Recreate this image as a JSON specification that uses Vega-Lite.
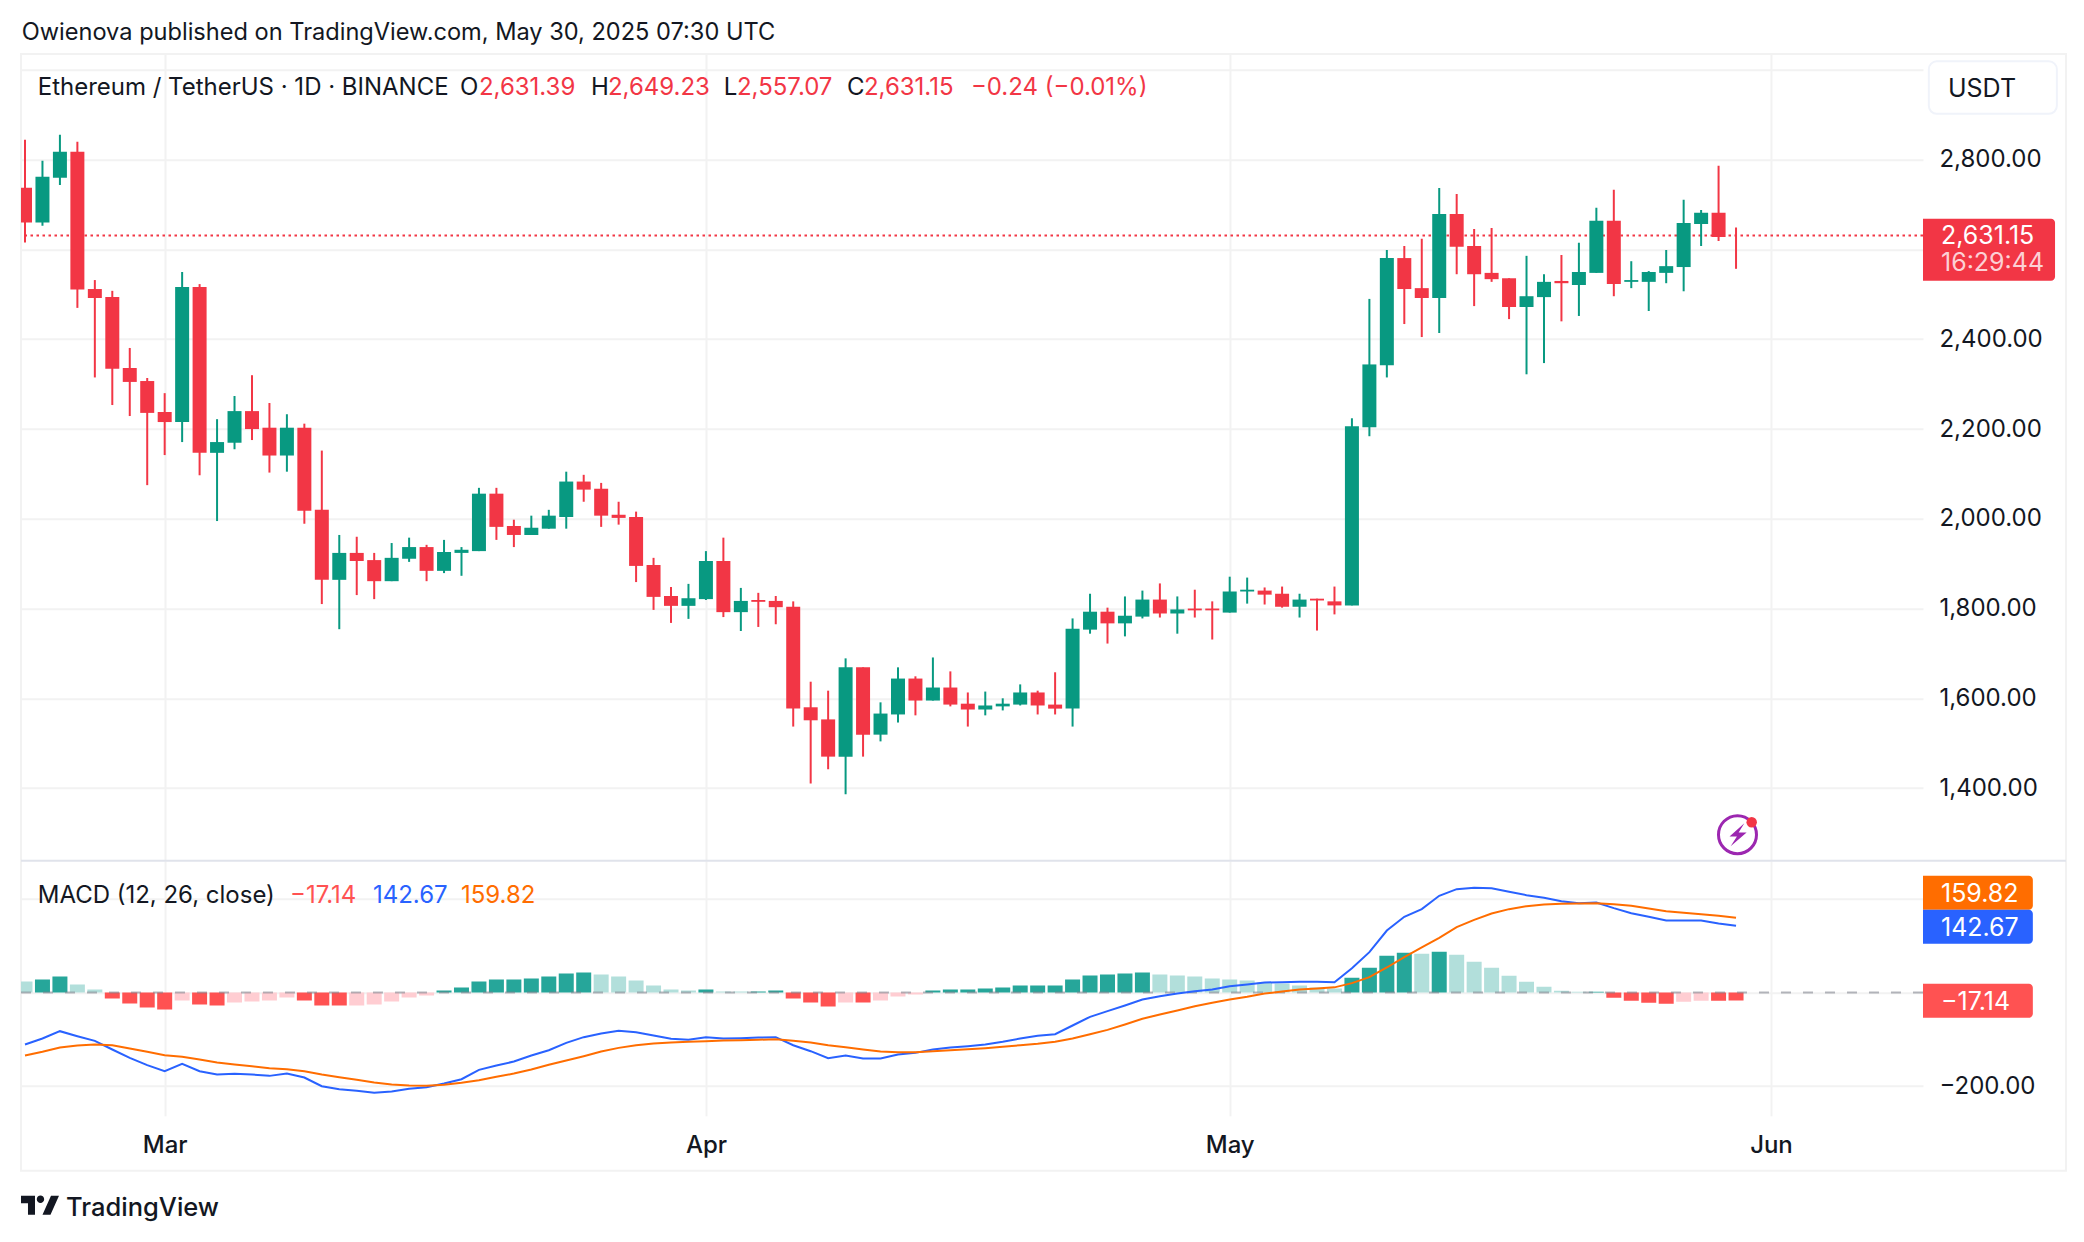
{
  "$schema": "https://vega.github.io/schema/vega-lite/v6.json",
  "background": "white",
  "padding": {"left": 20, "top": 20.8, "right": 0, "bottom": 0},
  "spacing": 0,
  "bounds": "flush",
  "resolve": {"scale": {"color": "independent"}},
  "datasets": {
    "days": [
      {"date":"2025-02-21T00:00","open":2737.5,"high":2844.6,"low":2615.6,"close":2660,"macd":-111.2,"signal":-134.8,"hist":23.5,"phase":"above falling"},
      {"date":"2025-02-22T00:00","open":2660,"high":2797.8,"low":2652.8,"close":2762,"macd":-98.4,"signal":-126.9,"hist":27.8,"phase":"above rising"},
      {"date":"2025-02-23T00:00","open":2760,"high":2855.8,"low":2744,"close":2817.8,"macd":-82.7,"signal":-117.6,"hist":34.2,"phase":"above rising"},
      {"date":"2025-02-24T00:00","open":2818,"high":2840,"low":2470,"close":2511,"macd":-93.4,"signal":-113.4,"hist":17.1,"phase":"above falling"},
      {"date":"2025-02-25T00:00","open":2512,"high":2532,"low":2315,"close":2492,"macd":-103.4,"signal":-111.2,"hist":6.4,"phase":"above falling"},
      {"date":"2025-02-26T00:00","open":2494.4,"high":2508,"low":2253.5,"close":2334.6,"macd":-121.9,"signal":-112.7,"hist":-12.8,"phase":"below falling"},
      {"date":"2025-02-27T00:00","open":2336,"high":2380.7,"low":2229,"close":2305,"macd":-139.8,"signal":-119.8,"hist":-23.5,"phase":"below falling"},
      {"date":"2025-02-28T00:00","open":2307,"high":2313.8,"low":2075,"close":2236,"macd":-155.4,"signal":-126.9,"hist":-32.1,"phase":"below falling"},
      {"date":"2025-03-01T00:00","open":2238,"high":2280,"low":2142,"close":2215.6,"macd":-168.3,"signal":-134,"hist":-36.4,"phase":"below falling"},
      {"date":"2025-03-02T00:00","open":2215.6,"high":2550,"low":2171,"close":2516.7,"macd":-152.6,"signal":-137.6,"hist":-17.1,"phase":"below rising"},
      {"date":"2025-03-03T00:00","open":2516.7,"high":2523,"low":2097,"close":2147,"macd":-168.3,"signal":-143.3,"hist":-25.7,"phase":"below falling"},
      {"date":"2025-03-04T00:00","open":2147,"high":2222,"low":1995,"close":2171,"macd":-175.4,"signal":-149.7,"hist":-27.8,"phase":"below falling"},
      {"date":"2025-03-05T00:00","open":2169.5,"high":2273.6,"low":2155,"close":2240,"macd":-174,"signal":-154,"hist":-21.4,"phase":"below rising"},
      {"date":"2025-03-06T00:00","open":2240,"high":2320,"low":2175.5,"close":2200,"macd":-175.4,"signal":-157.6,"hist":-19.3,"phase":"below rising"},
      {"date":"2025-03-07T00:00","open":2203,"high":2258,"low":2103,"close":2141,"macd":-178.3,"signal":-161.9,"hist":-17.1,"phase":"below rising"},
      {"date":"2025-03-08T00:00","open":2141,"high":2233,"low":2105,"close":2203,"macd":-173.3,"signal":-164,"hist":-10.7,"phase":"below rising"},
      {"date":"2025-03-09T00:00","open":2203,"high":2212,"low":1989,"close":2018,"macd":-181.8,"signal":-168.3,"hist":-17.1,"phase":"below falling"},
      {"date":"2025-03-10T00:00","open":2020,"high":2152,"low":1810,"close":1864,"macd":-200.4,"signal":-175.4,"hist":-27.8,"phase":"below falling"},
      {"date":"2025-03-11T00:00","open":1864,"high":1964,"low":1754,"close":1924,"macd":-206.8,"signal":-181.1,"hist":-27.8,"phase":"below falling"},
      {"date":"2025-03-12T00:00","open":1924,"high":1960,"low":1830,"close":1906,"macd":-210.3,"signal":-186.8,"hist":-27.8,"phase":"below rising"},
      {"date":"2025-03-13T00:00","open":1908,"high":1924,"low":1821,"close":1861,"macd":-214.6,"signal":-192.5,"hist":-25.7,"phase":"below rising"},
      {"date":"2025-03-14T00:00","open":1861,"high":1946,"low":1861,"close":1913,"macd":-211.8,"signal":-196.8,"hist":-19.3,"phase":"below rising"},
      {"date":"2025-03-15T00:00","open":1911,"high":1958,"low":1904,"close":1937,"macd":-206.1,"signal":-198.9,"hist":-10.7,"phase":"below rising"},
      {"date":"2025-03-16T00:00","open":1937,"high":1942,"low":1861,"close":1884,"macd":-202.5,"signal":-199.6,"hist":-6.4,"phase":"below rising"},
      {"date":"2025-03-17T00:00","open":1884,"high":1953,"low":1879,"close":1926,"macd":-194.7,"signal":-197.5,"hist":4.3,"phase":"above rising"},
      {"date":"2025-03-18T00:00","open":1924,"high":1937,"low":1873,"close":1931,"macd":-185.4,"signal":-193.2,"hist":10.7,"phase":"above rising"},
      {"date":"2025-03-19T00:00","open":1928,"high":2069,"low":1928,"close":2056,"macd":-165.4,"signal":-187.5,"hist":23.5,"phase":"above rising"},
      {"date":"2025-03-20T00:00","open":2056,"high":2069,"low":1953,"close":1982,"macd":-156.2,"signal":-180.4,"hist":27.8,"phase":"above rising"},
      {"date":"2025-03-21T00:00","open":1984,"high":1998,"low":1937,"close":1964,"macd":-147.6,"signal":-173.3,"hist":27.8,"phase":"above rising"},
      {"date":"2025-03-22T00:00","open":1964,"high":2007,"low":1964,"close":1980,"macd":-134.8,"signal":-164.7,"hist":29.9,"phase":"above rising"},
      {"date":"2025-03-23T00:00","open":1978,"high":2020,"low":1978,"close":2007,"macd":-123.4,"signal":-154.7,"hist":34.2,"phase":"above rising"},
      {"date":"2025-03-24T00:00","open":2004,"high":2105,"low":1978,"close":2083,"macd":-107.7,"signal":-145.5,"hist":40.7,"phase":"above rising"},
      {"date":"2025-03-25T00:00","open":2083,"high":2098,"low":2038,"close":2065,"macd":-95.5,"signal":-136.2,"hist":42.8,"phase":"above rising"},
      {"date":"2025-03-26T00:00","open":2067,"high":2080,"low":1982,"close":2007,"macd":-87.7,"signal":-126.2,"hist":38.5,"phase":"above falling"},
      {"date":"2025-03-27T00:00","open":2009,"high":2038,"low":1987,"close":2002,"macd":-82,"signal":-118.4,"hist":34.2,"phase":"above falling"},
      {"date":"2025-03-28T00:00","open":2004,"high":2016,"low":1859,"close":1895,"macd":-84.8,"signal":-112.7,"hist":25.7,"phase":"above falling"},
      {"date":"2025-03-29T00:00","open":1897,"high":1913,"low":1797,"close":1826,"macd":-92,"signal":-109.1,"hist":15,"phase":"above falling"},
      {"date":"2025-03-30T00:00","open":1828,"high":1848,"low":1768,"close":1806,"macd":-99.1,"signal":-107,"hist":6.4,"phase":"above falling"},
      {"date":"2025-03-31T00:00","open":1806,"high":1855,"low":1777,"close":1823,"macd":-101.2,"signal":-105.5,"hist":4.3,"phase":"above falling"},
      {"date":"2025-04-01T00:00","open":1821,"high":1928,"low":1819,"close":1906,"macd":-95.5,"signal":-104.1,"hist":6.4,"phase":"above rising"},
      {"date":"2025-04-02T00:00","open":1906,"high":1958,"low":1781,"close":1792,"macd":-98.4,"signal":-102.7,"hist":2.1,"phase":"above falling"},
      {"date":"2025-04-03T00:00","open":1792,"high":1846,"low":1750,"close":1817,"macd":-97.7,"signal":-102,"hist":2.1,"phase":"above falling"},
      {"date":"2025-04-04T00:00","open":1819,"high":1835,"low":1759,"close":1815,"macd":-96.3,"signal":-101.2,"hist":2.1,"phase":"above rising"},
      {"date":"2025-04-05T00:00","open":1817,"high":1828,"low":1765,"close":1803,"macd":-95.5,"signal":-99.8,"hist":4.3,"phase":"above rising"},
      {"date":"2025-04-06T00:00","open":1804,"high":1816,"low":1537,"close":1577,"macd":-112.7,"signal":-103.4,"hist":-12.8,"phase":"below falling"},
      {"date":"2025-04-07T00:00","open":1580,"high":1637,"low":1410,"close":1551,"macd":-125.5,"signal":-107,"hist":-21.4,"phase":"below falling"},
      {"date":"2025-04-08T00:00","open":1553,"high":1617,"low":1442,"close":1470,"macd":-140.5,"signal":-112.7,"hist":-29.9,"phase":"below falling"},
      {"date":"2025-04-09T00:00","open":1470,"high":1689,"low":1386,"close":1669,"macd":-134.8,"signal":-116.9,"hist":-21.4,"phase":"below rising"},
      {"date":"2025-04-10T00:00","open":1669,"high":1669,"low":1470,"close":1519,"macd":-141.2,"signal":-121.9,"hist":-21.4,"phase":"below falling"},
      {"date":"2025-04-11T00:00","open":1519,"high":1591,"low":1504,"close":1566,"macd":-141.2,"signal":-126.2,"hist":-17.1,"phase":"below rising"},
      {"date":"2025-04-12T00:00","open":1564,"high":1669,"low":1546,"close":1644,"macd":-132.6,"signal":-127.6,"hist":-8.6,"phase":"below rising"},
      {"date":"2025-04-13T00:00","open":1644,"high":1649,"low":1562,"close":1595,"macd":-129.1,"signal":-127.6,"hist":-4.3,"phase":"below rising"},
      {"date":"2025-04-14T00:00","open":1595,"high":1691,"low":1595,"close":1624,"macd":-121.9,"signal":-125.5,"hist":4.3,"phase":"above rising"},
      {"date":"2025-04-15T00:00","open":1624,"high":1660,"low":1582,"close":1586,"macd":-117.6,"signal":-123.4,"hist":6.4,"phase":"above rising"},
      {"date":"2025-04-16T00:00","open":1588,"high":1613,"low":1537,"close":1575,"macd":-114.8,"signal":-121.2,"hist":6.4,"phase":"above rising"},
      {"date":"2025-04-17T00:00","open":1575,"high":1615,"low":1562,"close":1584,"macd":-111.2,"signal":-119.1,"hist":8.6,"phase":"above rising"},
      {"date":"2025-04-18T00:00","open":1582,"high":1600,"low":1573,"close":1588,"macd":-105.5,"signal":-116.2,"hist":10.7,"phase":"above rising"},
      {"date":"2025-04-19T00:00","open":1586,"high":1631,"low":1584,"close":1613,"macd":-98.4,"signal":-112.7,"hist":15,"phase":"above rising"},
      {"date":"2025-04-20T00:00","open":1613,"high":1617,"low":1564,"close":1584,"macd":-92.7,"signal":-109.8,"hist":15,"phase":"above rising"},
      {"date":"2025-04-21T00:00","open":1586,"high":1658,"low":1564,"close":1577,"macd":-89.1,"signal":-105.5,"hist":15,"phase":"above rising"},
      {"date":"2025-04-22T00:00","open":1577,"high":1778,"low":1537,"close":1755,"macd":-70.6,"signal":-98.4,"hist":27.8,"phase":"above rising"},
      {"date":"2025-04-23T00:00","open":1753,"high":1833,"low":1744,"close":1793,"macd":-52,"signal":-89.1,"hist":36.4,"phase":"above rising"},
      {"date":"2025-04-24T00:00","open":1793,"high":1802,"low":1722,"close":1767,"macd":-39.9,"signal":-79.9,"hist":38.5,"phase":"above rising"},
      {"date":"2025-04-25T00:00","open":1767,"high":1827,"low":1738,"close":1784,"macd":-27.8,"signal":-68.4,"hist":40.7,"phase":"above rising"},
      {"date":"2025-04-26T00:00","open":1782,"high":1840,"low":1778,"close":1820,"macd":-15,"signal":-56.3,"hist":42.8,"phase":"above rising"},
      {"date":"2025-04-27T00:00","open":1820,"high":1856,"low":1780,"close":1789,"macd":-7.8,"signal":-47.1,"hist":38.5,"phase":"above falling"},
      {"date":"2025-04-28T00:00","open":1789,"high":1827,"low":1744,"close":1798,"macd":-2.1,"signal":-38.5,"hist":36.4,"phase":"above falling"},
      {"date":"2025-04-29T00:00","open":1800,"high":1842,"low":1780,"close":1796,"macd":2.9,"signal":-29.2,"hist":34.2,"phase":"above falling"},
      {"date":"2025-04-30T00:00","open":1800,"high":1816,"low":1731,"close":1796,"macd":6.4,"signal":-22.1,"hist":29.9,"phase":"above falling"},
      {"date":"2025-05-01T00:00","open":1791,"high":1871,"low":1791,"close":1838,"macd":13.5,"signal":-15,"hist":27.8,"phase":"above falling"},
      {"date":"2025-05-02T00:00","open":1838,"high":1869,"low":1811,"close":1842,"macd":17.1,"signal":-9.3,"hist":25.7,"phase":"above falling"},
      {"date":"2025-05-03T00:00","open":1840,"high":1847,"low":1809,"close":1831,"macd":21.4,"signal":-2.1,"hist":21.4,"phase":"above falling"},
      {"date":"2025-05-04T00:00","open":1833,"high":1849,"low":1802,"close":1804,"macd":22.1,"signal":2.1,"hist":19.3,"phase":"above falling"},
      {"date":"2025-05-05T00:00","open":1804,"high":1833,"low":1780,"close":1820,"macd":22.8,"signal":6.4,"hist":15,"phase":"above falling"},
      {"date":"2025-05-06T00:00","open":1822,"high":1822,"low":1751,"close":1818,"macd":22.8,"signal":8.6,"hist":10.7,"phase":"above falling"},
      {"date":"2025-05-07T00:00","open":1816,"high":1849,"low":1787,"close":1807,"macd":22,"signal":11,"hist":8.6,"phase":"above falling"},
      {"date":"2025-05-08T00:00","open":1807,"high":2224,"low":1807,"close":2206,"macd":52,"signal":20,"hist":31.4,"phase":"above rising"},
      {"date":"2025-05-09T00:00","open":2204,"high":2490,"low":2184,"close":2344,"macd":86.3,"signal":32.8,"hist":52.8,"phase":"above rising"},
      {"date":"2025-05-10T00:00","open":2342,"high":2599,"low":2315,"close":2581,"macd":132.6,"signal":53.5,"hist":78.4,"phase":"above rising"},
      {"date":"2025-05-11T00:00","open":2581,"high":2608,"low":2434,"close":2512,"macd":161.9,"signal":75.6,"hist":84.8,"phase":"above rising"},
      {"date":"2025-05-12T00:00","open":2514,"high":2624,"low":2405,"close":2492,"macd":178.3,"signal":96.3,"hist":82.7,"phase":"above falling"},
      {"date":"2025-05-13T00:00","open":2492,"high":2737,"low":2414,"close":2679,"macd":206.8,"signal":116.9,"hist":87,"phase":"above rising"},
      {"date":"2025-05-14T00:00","open":2679,"high":2724,"low":2545,"close":2606,"macd":221,"signal":139.8,"hist":80.6,"phase":"above falling"},
      {"date":"2025-05-15T00:00","open":2608,"high":2646,"low":2474,"close":2545,"macd":223.9,"signal":155.4,"hist":65.6,"phase":"above falling"},
      {"date":"2025-05-16T00:00","open":2548,"high":2648,"low":2528,"close":2534,"macd":223.2,"signal":169,"hist":52.8,"phase":"above falling"},
      {"date":"2025-05-17T00:00","open":2536,"high":2536,"low":2445,"close":2472,"macd":215.3,"signal":178.3,"hist":35.7,"phase":"above falling"},
      {"date":"2025-05-18T00:00","open":2472,"high":2586,"low":2322,"close":2496,"macd":208.2,"signal":184.7,"hist":22.8,"phase":"above falling"},
      {"date":"2025-05-19T00:00","open":2494,"high":2545,"low":2347,"close":2528,"macd":202.5,"signal":188.2,"hist":12.1,"phase":"above falling"},
      {"date":"2025-05-20T00:00","open":2530,"high":2588,"low":2440,"close":2525,"macd":195.4,"signal":189.7,"hist":3.6,"phase":"above falling"},
      {"date":"2025-05-21T00:00","open":2521,"high":2615,"low":2452,"close":2550,"macd":191.1,"signal":190.4,"hist":1.4,"phase":"above falling"},
      {"date":"2025-05-22T00:00","open":2548,"high":2693,"low":2548,"close":2664,"macd":192.5,"signal":191.1,"hist":1.4,"phase":"above rising"},
      {"date":"2025-05-23T00:00","open":2664,"high":2733,"low":2496,"close":2523,"macd":180.4,"signal":189,"hist":-11.4,"phase":"below falling"},
      {"date":"2025-05-24T00:00","open":2528,"high":2574,"low":2514,"close":2532,"macd":169.7,"signal":185.4,"hist":-17.8,"phase":"below falling"},
      {"date":"2025-05-25T00:00","open":2528,"high":2552,"low":2463,"close":2550,"macd":161.9,"signal":179.7,"hist":-22,"phase":"below falling"},
      {"date":"2025-05-26T00:00","open":2548,"high":2599,"low":2525,"close":2563,"macd":154,"signal":174,"hist":-24.2,"phase":"below falling"},
      {"date":"2025-05-27T00:00","open":2561,"high":2711,"low":2507,"close":2659,"macd":154,"signal":170.4,"hist":-20,"phase":"below rising"},
      {"date":"2025-05-28T00:00","open":2657,"high":2688,"low":2608,"close":2682,"macd":154,"signal":167.6,"hist":-17.8,"phase":"below rising"},
      {"date":"2025-05-29T00:00","open":2682,"high":2787,"low":2619,"close":2628,"macd":147.6,"signal":164,"hist":-17.8,"phase":"below falling"},
      {"date":"2025-05-30T00:00","open":2631.39,"high":2649.23,"low":2557.07,"close":2631.15,"macd":142.67,"signal":159.82,"hist":-17.14,"phase":"below falling"}
    ]
  },
  "vconcat": [
    {
      "width": 1902,
      "height": 807,
      "layer": [
        {
          "data": {"values": [{"from":"2025-02-20T18:30","to":"2025-06-17T21:30","top":3036,"bottom":547}]},
          "mark": {"type":"rect","fillOpacity":0,"stroke":"#f2f2f2","strokeWidth":2},
          "encoding": {
            "x": {"field":"from","type":"temporal","title":null,"scale":{"padding":0,"domain":[{"year":2025,"month":2,"date":20,"hours":18,"minutes":30},{"year":2025,"month":6,"date":9,"hours":17}]},
              "axis":{"labels":false,"domain":false,"ticks":false,"grid":true,"values":[{"year":2025,"month":3,"date":1},{"year":2025,"month":4,"date":1},{"year":2025,"month":5,"date":1},{"year":2025,"month":6,"date":1}]}},
            "x2": {"field":"to"},
            "y": {"field":"top","type":"quantitative","title":null,"scale":{"domain":[1237.9,3036.2],"nice":false,"zero":false},
              "axis":{"orient":"right","domain":false,"ticks":false,"grid":true,"labelPadding":16,"values":[1400,1600,1800,2000,2200,2400,2600,2800,3000],
                "labelExpr":"datum.value==3000||datum.value==2600 ? '' : format(datum.value, ',.2f')"}},
            "y2": {"field":"bottom"}
          }
        },
        {
          "data": {"values": [{"close":2631.15}]},
          "mark": {"type":"rule","color":"#f23645","strokeWidth":2,"strokeDash":[2.5,3.5]},
          "encoding": {"y": {"field":"close","type":"quantitative","title":null}}
        },
        {
          "data": {"name":"days"},
          "mark": {"type":"rule","strokeWidth":2,"clip":true},
          "encoding": {
            "x": {"field":"date","type":"temporal","title":null},
            "y": {"field":"low","type":"quantitative","title":null},
            "y2": {"field":"high"},
            "color": {"condition":{"test":"datum.close>=datum.open","value":"#089981"},"value":"#f23645"}
          }
        },
        {
          "data": {"name":"days"},
          "mark": {"type":"bar","size":14,"clip":true},
          "encoding": {
            "x": {"field":"date","type":"temporal","title":null},
            "y": {"field":"open","type":"quantitative","title":null},
            "y2": {"field":"close"},
            "color": {"condition":{"test":"datum.close>=datum.open","value":"#089981"},"value":"#f23645"}
          }
        },
        {
          "data": {"values": [{"from":"2025-06-09T17:00","to":"2025-06-17T06:30","hi":2668.5,"lo":2530.4}]},
          "mark": {"type":"rect","color":"#f23645","cornerRadiusTopRight":4,"cornerRadiusBottomRight":4},
          "encoding": {
            "x": {"field":"from","type":"temporal","title":null},
            "x2": {"field":"to"},
            "y": {"field":"hi","type":"quantitative","title":null},
            "y2": {"field":"lo"}
          }
        },
        {
          "data": {"values": [{"from":"2025-06-10T01:00","to":"2025-06-17T09:00","hi":3019.5,"lo":2902.5}]},
          "mark": {"type":"rect","fill":"white","stroke":"#f0f3fa","strokeWidth":2,"cornerRadius":8},
          "encoding": {
            "x": {"field":"from","type":"temporal","title":null},
            "x2": {"field":"to"},
            "y": {"field":"hi","type":"quantitative","title":null},
            "y2": {"field":"lo"}
          }
        },
        {
          "data": {"values": [{"date":"2025-05-30T02:00","price":1296}]},
          "mark": {"type":"point","shape":"circle","size":1444,"filled":false,"stroke":"#9c27b0","strokeWidth":3,"opacity":1},
          "encoding": {
            "x": {"field":"date","type":"temporal","title":null},
            "y": {"field":"price","type":"quantitative","title":null}
          }
        },
        {
          "data": {"values": [{"date":"2025-05-30T02:00","price":1296}]},
          "mark": {"type":"point","shape":"M 0.6 -1 L -0.7 0.15 L -0.05 0.15 L -0.6 1 L 0.8 -0.2 L 0.1 -0.2 Z","size":520,"filled":true,"color":"#9c27b0","opacity":1},
          "encoding": {
            "x": {"field":"date","type":"temporal","title":null},
            "y": {"field":"price","type":"quantitative","title":null}
          }
        },
        {
          "data": {"values": [{"date":"2025-05-30T21:30","price":1323.7}]},
          "mark": {"type":"point","shape":"circle","size":110,"filled":true,"color":"#f23645","opacity":1},
          "encoding": {
            "x": {"field":"date","type":"temporal","title":null},
            "y": {"field":"price","type":"quantitative","title":null}
          }
        },
        {
          "data": {"values": [
            {"text":"Owienova published on TradingView.com, May 30, 2025 07:30 UTC","date":"2025-02-20T19:30","price":3085.2,"tone":"ink"}
          ]},
          "mark": {"type":"text","align":"left","baseline":"middle","fontSize":23.6,"font":"Inter","dy":1.2},
          "encoding": {
            "x": {"field":"date","type":"temporal","title":null},
            "y": {"field":"price","type":"quantitative","title":null},
            "text": {"field":"text"},
            "color": {"field":"tone","type":"nominal","legend":null}
          }
        },
        {
          "data": {"values": [
            {"text":"Ethereum / TetherUS · 1D · BINANCE","date":"2025-02-21T17:30","price":2963.3,"tone":"ink"},
            {"text":"O","date":"2025-03-17T21:50","price":2963.3,"tone":"ink"},
            {"text":"2,631.39","date":"2025-03-19T00:00","price":2963.3,"tone":"down"},
            {"text":"H","date":"2025-03-25T10:00","price":2963.3,"tone":"ink"},
            {"text":"2,649.23","date":"2025-03-26T09:20","price":2963.3,"tone":"down"},
            {"text":"L","date":"2025-04-02T00:40","price":2963.3,"tone":"ink"},
            {"text":"2,557.07","date":"2025-04-02T18:40","price":2963.3,"tone":"down"},
            {"text":"C","date":"2025-04-09T02:00","price":2963.3,"tone":"ink"},
            {"text":"2,631.15","date":"2025-04-10T01:15","price":2963.3,"tone":"down"},
            {"text":"−0.24 (−0.01%)","date":"2025-04-16T04:20","price":2963.3,"tone":"down"}
          ]},
          "mark": {"type":"text","align":"left","baseline":"middle","fontSize":24,"font":"Inter","dy":1.2},
          "encoding": {
            "x": {"field":"date","type":"temporal","title":null},
            "y": {"field":"price","type":"quantitative","title":null},
            "text": {"field":"text"},
            "color": {"field":"tone","type":"nominal","legend":null,"scale":{"domain":["ink","down","tag","faded"],"range":["#131722","#f23645","#ffffff","#fcd0d5"]}}
          }
        },
        {
          "data": {"values": [
            {"text":"USDT","date":"2025-06-11T03:20","price":2961.3,"tone":"ink"},
            {"text":"2,631.15","date":"2025-06-10T17:45","price":2632.9,"tone":"tag"},
            {"text":"16:29:44","date":"2025-06-10T17:45","price":2572.7,"tone":"faded"}
          ]},
          "mark": {"type":"text","align":"left","baseline":"middle","fontSize":25,"font":"Inter","dy":1.2},
          "encoding": {
            "x": {"field":"date","type":"temporal","title":null},
            "y": {"field":"price","type":"quantitative","title":null},
            "text": {"field":"text"},
            "color": {"field":"tone","type":"nominal","legend":null}
          }
        }
      ]
    },
    {
      "width": 1902,
      "height": 255,
      "layer": [
        {
          "data": {"values": [{"from":"2025-02-20T18:30","to":"2025-06-17T21:30","level":281.7}]},
          "mark": {"type":"rule","color":"#e0e3eb","strokeWidth":2},
          "encoding": {
            "x": {"field":"from","type":"temporal","title":null,"scale":{"padding":0,"domain":[{"year":2025,"month":2,"date":20,"hours":18,"minutes":30},{"year":2025,"month":6,"date":9,"hours":17}]},
              "axis":{"domain":false,"ticks":false,"grid":true,"format":"%b","labelPadding":18,"labelFontSize":24,"labelFontWeight":500,"values":[{"year":2025,"month":3,"date":1},{"year":2025,"month":4,"date":1},{"year":2025,"month":5,"date":1},{"year":2025,"month":6,"date":1}]}},
            "x2": {"field":"to"},
            "y": {"field":"level","type":"quantitative","title":null,"scale":{"domain":[-263.7,281.7],"nice":false,"zero":false},
              "axis":{"orient":"right","domain":false,"ticks":false,"grid":true,"labelPadding":16,"values":[-200,0,200],
                "labelExpr":"datum.value==-200 ? '−200.00' : ''"}}
          }
        },
        {
          "data": {"name":"days"},
          "mark": {"type":"bar","size":15,"clip":true},
          "encoding": {
            "x": {"field":"date","type":"temporal","title":null},
            "y": {"field":"hist","type":"quantitative","title":null},
            "color": {"field":"phase","type":"nominal","legend":null,
              "scale":{"domain":["above rising","above falling","below falling","below rising","macd","signal","ink"],
                "range":["#26a69a","#b2dfdb","#ff5252","#ffcdd2","#2962ff","#ff6d00","#131722"]}}
          }
        },
        {
          "data": {"values": [{"level":0}]},
          "mark": {"type":"rule","color":"#787b86","opacity":0.55,"strokeWidth":2,"strokeDash":[10,12]},
          "encoding": {"y": {"field":"level","type":"quantitative","title":null}}
        },
        {
          "data": {"name":"days"},
          "mark": {"type":"line","color":"#2962ff","strokeWidth":2,"clip":true},
          "encoding": {
            "x": {"field":"date","type":"temporal","title":null},
            "y": {"field":"macd","type":"quantitative","title":null}
          }
        },
        {
          "data": {"name":"days"},
          "mark": {"type":"line","color":"#ff6d00","strokeWidth":2,"clip":true},
          "encoding": {
            "x": {"field":"date","type":"temporal","title":null},
            "y": {"field":"signal","type":"quantitative","title":null}
          }
        },
        {
          "data": {"values": [
            {"from":"2025-06-09T17:00","to":"2025-06-16T00:00","hi":249.6,"lo":176.9,"series":"signal"},
            {"from":"2025-06-09T17:00","to":"2025-06-16T00:00","hi":176.9,"lo":104.2,"series":"macd"},
            {"from":"2025-06-09T17:00","to":"2025-06-16T00:00","hi":18.6,"lo":-54.1,"series":"below falling"}
          ]},
          "mark": {"type":"rect","cornerRadiusTopRight":4,"cornerRadiusBottomRight":4},
          "encoding": {
            "x": {"field":"from","type":"temporal","title":null},
            "x2": {"field":"to"},
            "y": {"field":"hi","type":"quantitative","title":null},
            "y2": {"field":"lo"},
            "color": {"field":"series","type":"nominal","legend":null}
          }
        },
        {
          "data": {"values": [
            {"text":"159.82","date":"2025-06-10T17:45","value":213.5},
            {"text":"142.67","date":"2025-06-10T17:45","value":140.5},
            {"text":"−17.14","date":"2025-06-10T17:45","value":-17.8}
          ]},
          "mark": {"type":"text","align":"left","baseline":"middle","fontSize":25,"font":"Inter","color":"white","dy":1.2},
          "encoding": {
            "x": {"field":"date","type":"temporal","title":null},
            "y": {"field":"value","type":"quantitative","title":null},
            "text": {"field":"text"}
          }
        },
        {
          "data": {"values": [
            {"text":"MACD (12, 26, close)","date":"2025-02-21T17:30","value":209,"series":"ink"},
            {"text":"−17.14","date":"2025-03-08T04:20","value":209,"series":"below falling"},
            {"text":"142.67","date":"2025-03-12T22:20","value":209,"series":"macd"},
            {"text":"159.82","date":"2025-03-17T23:20","value":209,"series":"signal"}
          ]},
          "mark": {"type":"text","align":"left","baseline":"middle","fontSize":24,"font":"Inter","dy":1.2},
          "encoding": {
            "x": {"field":"date","type":"temporal","title":null},
            "y": {"field":"value","type":"quantitative","title":null},
            "text": {"field":"text"},
            "color": {"field":"series","type":"nominal","legend":null}
          }
        },
        {
          "data": {"values": [{"text":"TradingView","date":"2025-02-23T08:30","value":-460.5}]},
          "mark": {"type":"text","align":"left","baseline":"middle","fontSize":25.5,"fontWeight":500,"font":"Inter","color":"#131722"},
          "encoding": {
            "x": {"field":"date","type":"temporal","title":null},
            "y": {"field":"value","type":"quantitative","title":null},
            "text": {"field":"text"}
          }
        },
        {
          "data": {"values": [{"date":"2025-02-21T20:36","value":-455}]},
          "mark": {"type":"point","shape":"M -1 -0.5 L -0.263 -0.5 L -0.263 0.5 L -0.632 0.5 L -0.632 -0.105 L -1 -0.105 Z M -0.17 -0.316 A 0.195 0.195 0 1 0 0.22 -0.316 A 0.195 0.195 0 1 0 -0.17 -0.316 Z M 0.579 -0.5 L 1 -0.5 L 0.553 0.5 L 0.132 0.5 Z","size":1444,"filled":true,"color":"#131722","opacity":1},
          "encoding": {
            "x": {"field":"date","type":"temporal","title":null},
            "y": {"field":"value","type":"quantitative","title":null}
          }
        }
      ]
    }
  ],
  "config": {
    "view": {"stroke": null},
    "font": "Inter",
    "axis": {"gridColor":"#f2f2f2","gridWidth":2,"labelColor":"#131722","labelFont":"Inter","labelFontSize":24,"labelOverlap":false,"labelBound":false,"labelFlush":false,"labelSeparation":0}
  }
}
